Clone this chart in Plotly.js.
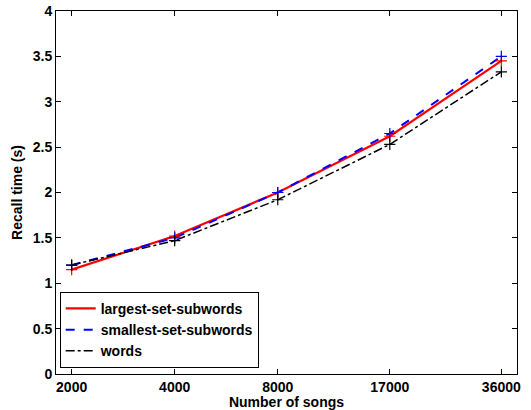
<!DOCTYPE html>
<html>
<head>
<meta charset="utf-8">
<script src="https://cdn.plot.ly/plotly-3.0.1.min.js"></script>
<style>html,body{margin:0;padding:0;background:#fff;}#chart{width:531px;height:410px;}</style>
</head>
<body>
<div id="chart"></div>
<script>
const songs = [2000, 4000, 8000, 17000, 36000];
const tickLabels = ['2000', '4000', '8000', '17000', '36000'];
const largestSet = [1.15, 1.52, 2.00, 2.62, 3.45];
const smallestSet = [1.20, 1.50, 2.00, 2.65, 3.50];
const words = [1.20, 1.47, 1.92, 2.53, 3.33];
const yTicks = [0, 0.5, 1, 1.5, 2, 2.5, 3, 3.5, 4];

const font = {family: 'Liberation Sans, Arial, sans-serif', size: 14, color: '#000'};
const legendFont = {family: 'Liberation Sans, Arial, sans-serif', size: 14, color: '#000'};
function lineTrace(name, y, color, dash, width) {
  return {
    x: songs, y: y, name: name, type: 'scatter', mode: 'lines',
    line: {color: color, dash: dash, width: width}
  };
}
function markTrace(y, color) {
  return {
    x: songs, y: y, type: 'scatter', mode: 'markers', showlegend: false,
    marker: {symbol: 'cross-thin-open', size: 8, color: color, line: {color: color, width: 1.2}}
  };
}
const data = [
  lineTrace('<b>largest-set-subwords</b>', largestSet, '#ff0000', 'solid', 2.2),
  lineTrace('<b>smallest-set-subwords</b>', smallestSet, '#0000ff', 'dash', 2),
  lineTrace('<b>words</b>', words, '#000000', 'dashdot', 1.5),
  markTrace(largestSet, '#ff0000'),
  markTrace(smallestSet, '#0000ff'),
  markTrace(words, '#000000')
];
const layout = {
  width: 531, height: 410,
  margin: {l: 56, r: 14, t: 11, b: 36},
  paper_bgcolor: '#fff', plot_bgcolor: '#fff',
  font: font,
  showlegend: true,
  xaxis: {
    type: 'log', range: [Math.log10(1800), Math.log10(40000)],
    tickvals: songs, ticktext: tickLabels.map(t => '<b>' + t + '</b>'),
    ticks: 'inside', ticklen: 5, tickcolor: '#000', tickwidth: 1,
    showline: true, linecolor: '#000', linewidth: 1, mirror: 'ticks',
    showgrid: false, zeroline: false,
    title: {text: '<b>Number of songs</b>', font: font, standoff: 2},
    tickfont: font
  },
  yaxis: {
    range: [0, 4], tickvals: yTicks, ticktext: yTicks.map(v => '<b>' + v + '</b>'),
    ticks: 'inside', ticklen: 5, tickcolor: '#000', tickwidth: 1,
    showline: true, linecolor: '#000', linewidth: 1, mirror: 'ticks',
    showgrid: false, zeroline: false,
    title: {text: '<b>Recall time (s)</b>', font: font, standoff: 6},
    tickfont: font
  },
  legend: {
    x: 0.008, y: 0.017, xanchor: 'left', yanchor: 'bottom',
    bgcolor: '#fff', bordercolor: '#000', borderwidth: 1,
    font: legendFont, itemwidth: 30, tracegroupgap: 0
  }
};
Plotly.newPlot('chart', data, layout, {displayModeBar: false, staticPlot: true});
</script>
</body>
</html>
